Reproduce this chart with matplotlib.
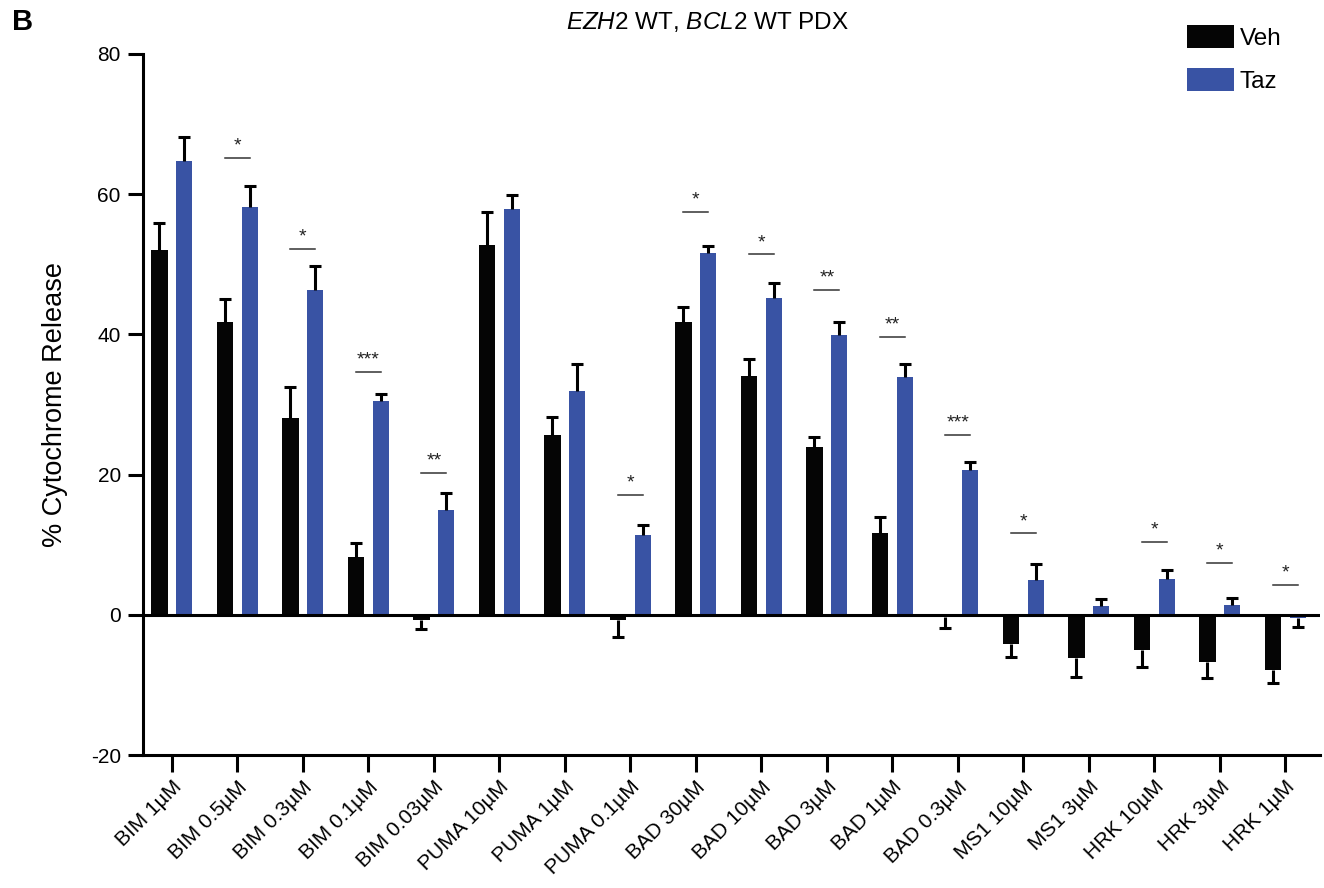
import numpy as np
import matplotlib
matplotlib.use('Agg')
import matplotlib.pyplot as plt
from matplotlib import rcParams
from matplotlib.patches import Patch

rcParams['font.family'] = ['Liberation Sans', 'DejaVu Sans']
rcParams['mathtext.fontset'] = 'custom'
rcParams['mathtext.it'] = 'Liberation Sans:italic'
rcParams['mathtext.rm'] = 'Liberation Sans'
rcParams['axes.unicode_minus'] = False

# ------------------- data -------------------
conditions = ['BIM 1µM', 'BIM 0.5µM', 'BIM 0.3µM', 'BIM 0.1µM', 'BIM 0.03µM',
              'PUMA 10µM', 'PUMA 1µM', 'PUMA 0.1µM', 'BAD 30µM', 'BAD 10µM',
              'BAD 3µM', 'BAD 1µM', 'BAD 0.3µM', 'MS1 10µM', 'MS1 3µM',
              'HRK 10µM', 'HRK 3µM', 'HRK 1µM']

veh = [52.0, 41.8, 28.1, 8.2, -0.8, 52.8, 25.6, -0.7, 41.7, 34.0,
       24.0, 11.6, -0.3, -4.1, -6.1, -5.0, -6.7, -7.9]
veh_err = [3.9, 3.3, 4.4, 2.0, 1.2, 4.6, 2.6, 2.5, 2.2, 2.5,
           1.4, 2.3, 1.6, 1.9, 2.8, 2.5, 2.3, 1.8]

taz = [64.8, 58.2, 46.3, 30.5, 14.9, 57.9, 31.9, 11.4, 51.6, 45.2,
       39.9, 33.9, 20.7, 5.0, 1.3, 5.1, 1.4, -0.5]
taz_err = [3.4, 2.9, 3.4, 1.0, 2.5, 2.0, 3.9, 1.4, 1.0, 2.2,
           1.8, 1.9, 1.1, 2.3, 0.9, 1.3, 1.0, 1.3]

sig = ['', '*', '*', '***', '**', '', '', '*', '*', '*',
       '**', '**', '***', '*', '', '*', '*', '*']
sig_y = [np.nan, 65.2, 52.2, 34.6, 20.2, np.nan, np.nan, 17.1, 57.4, 51.4,
         46.4, 39.6, 25.7, 11.6, np.nan, 10.4, 7.4, 4.3]

colors = {'Veh': '#050505', 'Taz': '#3953a4'}

# ------------------- figure -------------------
fig = plt.figure(figsize=(13.24, 8.88), dpi=100)
ax = fig.add_axes([143 / 1324., 133 / 888., (1320 - 143) / 1324., (755 - 54) / 888.])

x = np.arange(len(conditions))
off = 0.19
w = 0.25
lw = 2.2


def one_sided_errorbar(xpos, vals, errs):
    '''error bar only on the side pointing away from zero'''
    vals = np.asarray(vals)
    errs = np.asarray(errs)
    pos = vals >= 0
    neg = ~pos
    if pos.any():
        _, caps, _ = ax.errorbar(xpos[pos], vals[pos],
                                 yerr=[np.zeros(pos.sum()), errs[pos]],
                                 fmt='none', ecolor='k', elinewidth=lw,
                                 capsize=4.5, capthick=lw, zorder=3)
        caps[0].set_visible(False)
    if neg.any():
        _, caps, _ = ax.errorbar(xpos[neg], vals[neg],
                                 yerr=[errs[neg], np.zeros(neg.sum())],
                                 fmt='none', ecolor='k', elinewidth=lw,
                                 capsize=4.5, capthick=lw, zorder=3)
        caps[1].set_visible(False)


ax.bar(x - off, veh, width=w, color=colors['Veh'], zorder=2)
ax.bar(x + off, taz, width=w, color=colors['Taz'], zorder=2)
one_sided_errorbar(x - off, veh, veh_err)
one_sided_errorbar(x + off, taz, taz_err)

ax.axhline(0, color='k', lw=lw, zorder=4)

# significance bars
for i, (s, yy) in enumerate(zip(sig, sig_y)):
    if not s:
        continue
    ax.plot([i - off, i + off], [yy, yy], color='#333333', lw=1.1, zorder=3)
    ax.text(i, yy + 0.5, s, ha='center', va='bottom', fontsize=14, color='#222222')

ax.set_xlim(-0.44, 17.53)
ax.set_ylim(-20, 80)
ax.set_yticks([-20, 0, 20, 40, 60, 80])
ax.set_xticks(x)
ax.set_xticklabels(conditions, rotation=45, ha='right', rotation_mode='anchor',
                   fontsize=15)

for sp in ['top', 'right']:
    ax.spines[sp].set_visible(False)
for sp in ['left', 'bottom']:
    ax.spines[sp].set_linewidth(lw)

ax.tick_params(axis='y', length=11, width=lw, labelsize=15, pad=5, color='k')
ax.tick_params(axis='x', length=12, width=lw, pad=4, color='k')
ax.set_ylabel('% Cytochrome Release', fontsize=19.5, labelpad=16)

fig.text(708 / 1324., 1 - 22 / 888., r'$\it{EZH2}$ WT, $\it{BCL2}$ WT PDX',
         ha='center', va='center', fontsize=17.5)
fig.text(12 / 1324., 1 - 22 / 888., 'B', ha='left', va='center',
         fontsize=21, fontweight='bold')

handles = [Patch(facecolor=colors['Veh']), Patch(facecolor=colors['Taz'])]
fig.legend(handles, ['Veh', 'Taz'], loc='upper left',
           bbox_to_anchor=(1187 / 1324., 1 - 25 / 888.), frameon=False,
           fontsize=17.5, handlelength=1.93, handleheight=1.07, handletextpad=0.25,
           labelspacing=0.76, borderpad=0, borderaxespad=0)

fig.savefig('out.png', dpi=100)
